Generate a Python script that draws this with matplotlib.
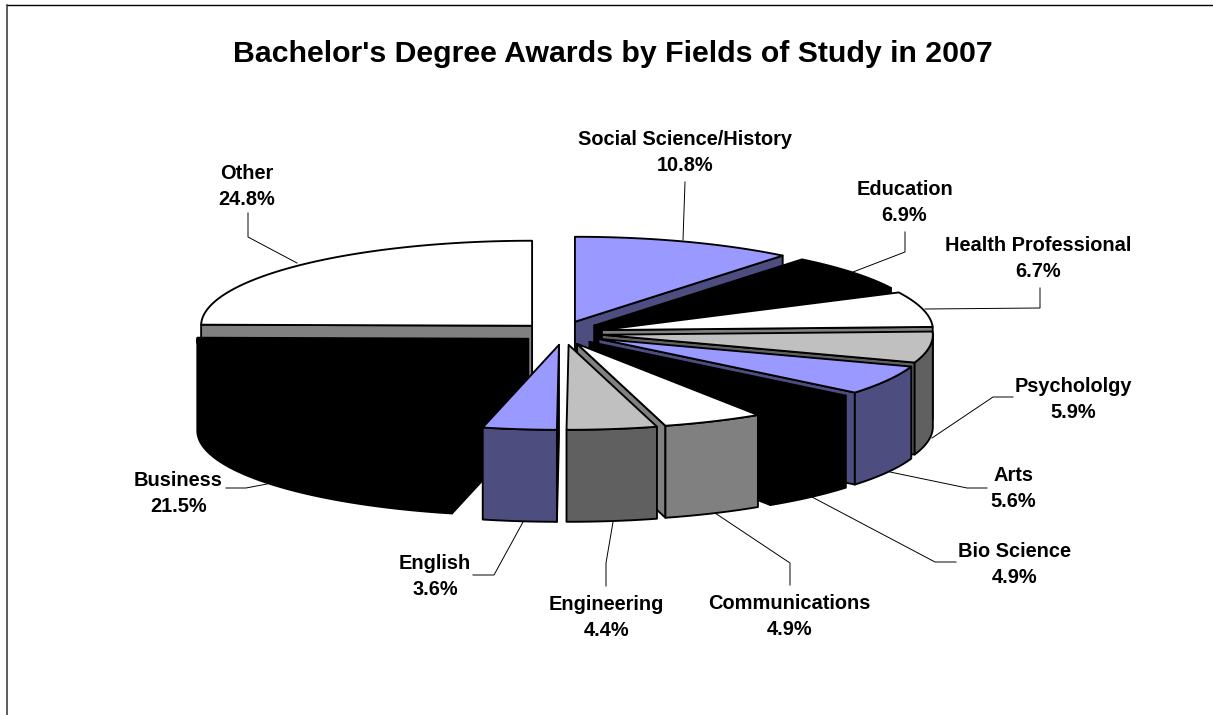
import numpy as np
import matplotlib
matplotlib.use("Agg")
import matplotlib.pyplot as plt
from matplotlib.patches import Polygon

plt.rcParams["font.family"] = ["Liberation Sans", "DejaVu Sans"]

# Shares of degrees, clockwise from twelve o'clock
fields = ["Social Science/History", "Education", "Health Professional", "Psychololgy",
          "Arts", "Bio Science", "Communications", "Engineering", "English", "Business", "Other"]
shares = [10.8, 6.9, 6.7, 5.9, 5.6, 4.9, 4.9, 4.4, 3.6, 21.5, 24.8]

# Slice styling
top_colors = ["#9999FF", "#000000", "#FFFFFF", "#C0C0C0", "#9999FF", "#000000",
              "#FFFFFF", "#C0C0C0", "#9999FF", "#000000", "#FFFFFF"]
side_colors = ["#4D4D80", "#000000", "#808080", "#606060", "#4D4D80", "#000000",
               "#808080", "#606060", "#4D4D80", "#000000", "#808080"]
explode = [0.14, 0.14, 0.14, 0.14, 0.14, 0.14, 0.14, 0.14, 0.14, 0.11, 0.12]
nudge_x = [1.5, 0, -1, -2, 0, 0.5, 0, 4.5, 6.5, -1, 2]

# Projected pie geometry, in figure pixels
CX, CY = 558, 333
RX, RY = 331, 85
DEPTH = 92
EDGE = 1.35

fig = plt.figure(figsize=(12.13, 7.15), dpi=100, facecolor="white")
ax = fig.add_axes([0, 0, 1, 1])
ax.set_xlim(0, 1213)
ax.set_ylim(715, 0)
ax.axis("off")


def rim(theta_deg, apex):
    t = np.radians(theta_deg)
    return np.column_stack([apex[0] + RX * np.sin(t), apex[1] - RY * np.cos(t)])


def add_poly(pts, color, z):
    ax.add_patch(Polygon(pts, closed=True, facecolor=color, edgecolor="black",
                         linewidth=EDGE, joinstyle="round", zorder=z))


def draw_slice(start, end, idx, z):
    mid = np.radians((start + end) / 2)
    e = explode[idx]
    apex = (CX + e * RX * np.sin(mid) + nudge_x[idx], CY - e * RY * np.cos(mid))
    down = np.array([0, DEPTH])
    a = np.array(apex)

    # Radial cut faces that turn toward the viewer
    if 0 <= end < 180:
        p = rim(end, apex)[0]
        add_poly([a, p, p + down, a + down], side_colors[idx], z)
    if 180 <= start < 360:
        p = rim(start, apex)[0]
        add_poly([a, p, p + down, a + down], side_colors[idx], z)

    # Outer wall, front half of the rim only
    lo, hi = max(start, 90), min(end, 270)
    if hi > lo:
        arc = rim(np.linspace(lo, hi, 60), apex)
        add_poly(np.vstack([arc, (arc + down)[::-1]]), side_colors[idx], z + 0.1)

    # Top face
    arc = rim(np.linspace(start, end, 90), apex)
    add_poly(np.vstack([[a], arc]), top_colors[idx], z + 0.2)


edges = np.cumsum([0] + shares) / sum(shares) * 360
paint_order = [10, 0, 1, 2, 3, 4, 5, 6, 9, 8, 7]
for z, i in enumerate(paint_order):
    draw_slice(edges[i], edges[i + 1], i, 2 + z)

# Chart frame: top and left rules
ax.plot([6.5, 1213], [5, 5], color="black", lw=1.0, zorder=1)
ax.plot([6.5, 6.5], [5, 715], color="#303030", lw=1.1, zorder=1)

ax.text(613, 54, "Bachelor's Degree Awards by Fields of Study in 2007",
        fontsize=21.8, fontweight="bold", ha="center", va="center", zorder=30)

# Label centres and leader paths for each field
label_xy = [(685, 152.5), (904.5, 202.5), (1038.5, 258.5), (1073.5, 399.5), (1013, 488.5),
            (1015, 564.5), (789.5, 616.5), (606.5, 617.5), (435, 576.5), (178.5, 493.5), (247, 186.5)]
leaders = [
    [(685, 182), (683, 240)],
    [(905, 232), (905, 252), (853, 272)],
    [(1040, 288), (1040, 308), (925, 309)],
    [(1013, 397), (993, 397), (932, 438)],
    [(987, 488), (967, 488), (890, 472)],
    [(956, 562), (935, 562), (812, 497)],
    [(790, 585), (790, 563), (715, 513)],
    [(606, 586), (606, 563), (613, 522)],
    [(473, 575), (494, 575), (523, 522)],
    [(226, 488), (246, 488), (267, 484)],
    [(248, 213), (248, 237), (297, 263)],
]

for name, share, (x, y), path in zip(fields, shares, label_xy, leaders):
    ax.text(x, y, f"{name}\n{share}%", fontsize=14.4, fontweight="bold",
            ha="center", va="center", linespacing=1.48, zorder=30)
    xs, ys = zip(*path)
    ax.plot(xs, ys, color="black", lw=0.7, zorder=1)

fig.savefig("out.png", dpi=100)
